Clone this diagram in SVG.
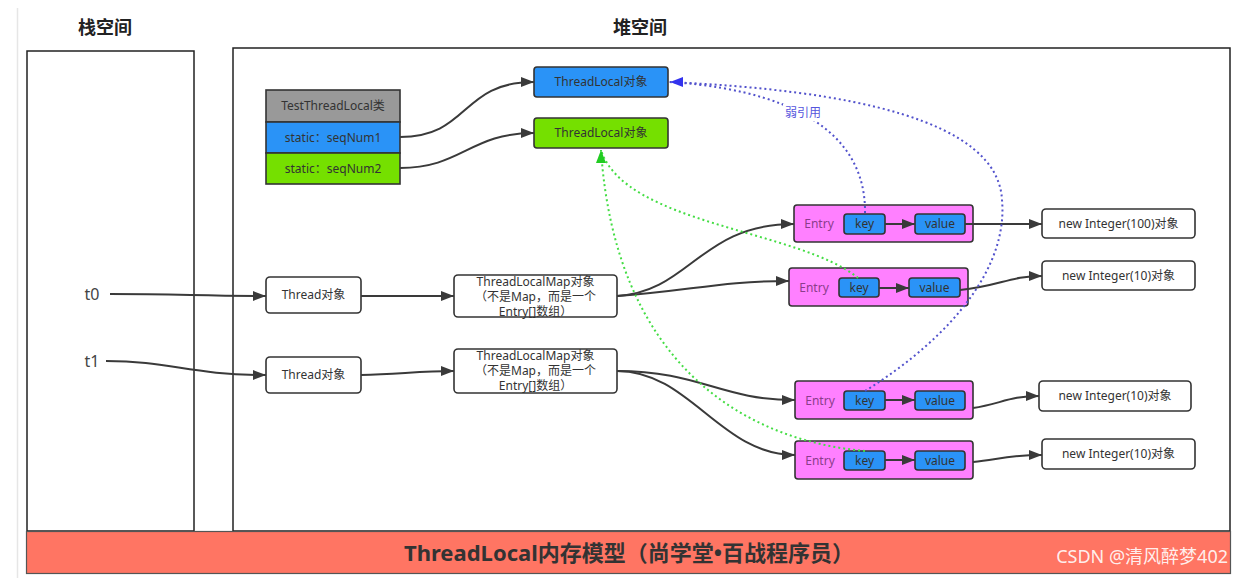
<svg xmlns="http://www.w3.org/2000/svg" width="1237" height="578" viewBox="0 0 1237 578">
<defs>
<style>
text{font-family:"Noto Sans","Noto Sans CJK SC",sans-serif;fill:#333;}
.t12{font-size:12px;text-anchor:middle;}
.t11{font-size:12px;text-anchor:middle;}
.frame{fill:#fff;stroke:#222;stroke-width:1.5;}
.box{fill:#fff;stroke:#333;stroke-width:1.6;}
.pink{fill:#ff80ff;stroke:#333;stroke-width:1.6;}
.kv{fill:#2a93f7;stroke:#333;stroke-width:1.6;}
.entry{font-size:12px;text-anchor:middle;fill:#8a3d8a;}
.conn{fill:none;stroke:#3a3a3a;stroke-width:2;}
.weak{fill:none;stroke:#5252cc;stroke-width:2;stroke-dasharray:2 3;}
.strong{fill:none;stroke:#44dd44;stroke-width:2;stroke-dasharray:2 3;}
</style>
<marker id="arr" markerUnits="userSpaceOnUse" markerWidth="14" markerHeight="12" refX="13" refY="5" orient="auto" viewBox="0 0 14 10">
<path d="M0,0 L13,5 L0,10 Z" fill="#3a3a3a"/>
</marker>
<marker id="arrBlue" markerUnits="userSpaceOnUse" markerWidth="14" markerHeight="12" refX="13" refY="5" orient="180" viewBox="0 0 14 10">
<path d="M0,0 L13,5 L0,10 Z" fill="#3333ee"/>
</marker>
<marker id="arrGreen" markerUnits="userSpaceOnUse" markerWidth="14" markerHeight="12" refX="13" refY="5" orient="270" viewBox="0 0 14 10">
<path d="M0,0 L13,5 L0,10 Z" fill="#22cc22"/>
</marker>
</defs>
<rect x="0" y="0" width="1237" height="578" fill="#fff"/>
<line x1="17.5" y1="8" x2="17.5" y2="578" stroke="#e6e6e6" stroke-width="1.5"/>

<g id="stack">
<text x="105" y="34" style="font-size:18px;font-weight:bold;text-anchor:middle;fill:#222">栈空间</text>
<rect class="frame" x="27" y="51" width="167" height="480"/>
</g>
<g id="heap">
<text x="640" y="34" style="font-size:18px;font-weight:bold;text-anchor:middle;fill:#222">堆空间</text>
<rect class="frame" x="233" y="48" width="997" height="483"/>
</g>
<g id="banner">
<rect x="26.5" y="531.5" width="1204" height="42" fill="#ff7563" stroke="#555" stroke-width="1.2"/>
<text x="629" y="561" style="font-size:22px;font-weight:bold;text-anchor:middle;fill:#333">ThreadLocal内存模型（尚学堂•百战程序员）</text>
<text x="1228" y="563" style="font-size:18px;text-anchor:end;fill:#fff;fill-opacity:0.9">CSDN @清风醉梦402</text>
</g>

<g id="labels-t">
<text x="92" y="300" style="font-size:16px;text-anchor:middle;fill:#444">t0</text>
<text x="92" y="367" style="font-size:16px;text-anchor:middle;fill:#444">t1</text>
</g>

<g id="testclass">
<rect x="266" y="90" width="134" height="32" fill="#999" stroke="#333" stroke-width="1.6"/>
<rect x="266" y="122" width="134" height="31" fill="#2a93f7" stroke="#333" stroke-width="1.6"/>
<rect x="266" y="153" width="134" height="31" fill="#75e000" stroke="#333" stroke-width="1.6"/>
<text class="t12" x="333" y="110">TestThreadLocal类</text>
<text class="t12" x="333" y="142">static：seqNum1</text>
<text class="t12" x="333" y="173">static：seqNum2</text>
</g>

<g id="tl-blue">
<rect x="534" y="67" width="134" height="30" rx="3" fill="#2a93f7" stroke="#333" stroke-width="1.6"/>
<text class="t12" x="601" y="86">ThreadLocal对象</text>
</g>
<g id="tl-green">
<rect x="534" y="118" width="134" height="30" rx="3" fill="#75e000" stroke="#333" stroke-width="1.6"/>
<text class="t12" x="601" y="137">ThreadLocal对象</text>
</g>

<g id="thread0">
<rect class="box" x="266" y="277" width="95" height="36" rx="4"/>
<text class="t12" x="313.5" y="299">Thread对象</text>
</g>
<g id="thread1">
<rect class="box" x="266" y="357" width="95" height="36" rx="4"/>
<text class="t12" x="313.5" y="379">Thread对象</text>
</g>

<g id="map0">
<rect class="box" x="454" y="275" width="163" height="42" rx="4"/>
<text class="t11" x="535.5" y="286">ThreadLocalMap对象</text>
<text class="t11" x="535.5" y="301">（不是Map，而是一个</text>
<text class="t11" x="535.5" y="316">Entry[]数组）</text>
</g>
<g id="map1">
<rect class="box" x="454" y="349" width="163" height="44" rx="4"/>
<text class="t11" x="535.5" y="360">ThreadLocalMap对象</text>
<text class="t11" x="535.5" y="375">（不是Map，而是一个</text>
<text class="t11" x="535.5" y="390">Entry[]数组）</text>
</g>

<g id="entry1">
<rect class="pink" x="794" y="205" width="179" height="37" rx="3"/>
<text class="entry" x="819" y="228">Entry</text>
<rect class="kv" x="844" y="214" width="41" height="20" rx="3"/>
<text class="t12" x="864.5" y="228">key</text>
<rect class="kv" x="915" y="214" width="50" height="20" rx="3"/>
<text class="t12" x="940" y="228">value</text>
</g>
<g id="entry2">
<rect class="pink" x="789" y="268" width="179" height="38" rx="3"/>
<text class="entry" x="814" y="292">Entry</text>
<rect class="kv" x="839" y="278" width="40" height="19" rx="3"/>
<text class="t12" x="859" y="292">key</text>
<rect class="kv" x="909" y="278" width="51" height="19" rx="3"/>
<text class="t12" x="934.5" y="292">value</text>
</g>
<g id="entry3">
<rect class="pink" x="795" y="381" width="178" height="38" rx="3"/>
<text class="entry" x="820" y="405">Entry</text>
<rect class="kv" x="844" y="391" width="41" height="19" rx="3"/>
<text class="t12" x="864.5" y="405">key</text>
<rect class="kv" x="915" y="391" width="50" height="19" rx="3"/>
<text class="t12" x="940" y="405">value</text>
</g>
<g id="entry4">
<rect class="pink" x="795" y="441" width="178" height="38" rx="3"/>
<text class="entry" x="820" y="465">Entry</text>
<rect class="kv" x="844" y="451" width="41" height="19" rx="3"/>
<text class="t12" x="864.5" y="465">key</text>
<rect class="kv" x="915" y="451" width="50" height="19" rx="3"/>
<text class="t12" x="940" y="465">value</text>
</g>

<g id="int100">
<rect class="box" x="1042" y="209" width="153" height="29" rx="4"/>
<text class="t12" x="1118.5" y="228">new Integer(100)对象</text>
</g>
<g id="int10a">
<rect class="box" x="1042" y="261" width="153" height="29" rx="4"/>
<text class="t12" x="1118.5" y="280">new Integer(10)对象</text>
</g>
<g id="int10b">
<rect class="box" x="1039" y="381" width="152" height="30" rx="4"/>
<text class="t12" x="1115" y="400">new Integer(10)对象</text>
</g>
<g id="int10c">
<rect class="box" x="1042" y="439" width="153" height="30" rx="4"/>
<text class="t12" x="1118.5" y="458">new Integer(10)对象</text>
</g>

<g id="connectors">
<path class="conn" d="M400,137 C470,137 460,82 534,82" marker-end="url(#arr)"/>
<path class="conn" d="M400,168 C462,168 470,133 534,133" marker-end="url(#arr)"/>
<path class="conn" d="M110,294 C180,294 200,296 266,296" marker-end="url(#arr)"/>
<path class="conn" d="M106,361 C170,361 190,375 266,375" marker-end="url(#arr)"/>
<path class="conn" d="M361,296 L454,296" marker-end="url(#arr)"/>
<path class="conn" d="M361,375 C400,374 420,371 454,371" marker-end="url(#arr)"/>
<path class="conn" d="M617,296 C690,292 700,224 794,224" marker-end="url(#arr)"/>
<path class="conn" d="M617,296 C690,291 720,281 789,281" marker-end="url(#arr)"/>
<path class="conn" d="M617,371 C700,371 720,400 795,400" marker-end="url(#arr)"/>
<path class="conn" d="M617,371 C690,371 720,455 795,455" marker-end="url(#arr)"/>
<path class="conn" d="M885,224 L915,224" marker-end="url(#arr)"/>
<path class="conn" d="M879,288 L909,288" marker-end="url(#arr)"/>
<path class="conn" d="M885,400 L915,400" marker-end="url(#arr)"/>
<path class="conn" d="M885,460 L915,460" marker-end="url(#arr)"/>
<path class="conn" d="M965,224 L1042,224" marker-end="url(#arr)"/>
<path class="conn" d="M960,290 C1000,286 1010,276 1042,276" marker-end="url(#arr)"/>
<path class="conn" d="M973,408 C1000,404 1010,396 1039,396" marker-end="url(#arr)"/>
<path class="conn" d="M973,462 C1000,459 1010,455 1042,455" marker-end="url(#arr)"/>
<path class="weak" d="M865,391 C955,335 1008,265 1002,200 C998,120 850,90 668,82"/>
<path class="weak" d="M865,213 C866,150 820,92 670,82" marker-end="url(#arrBlue)"/>
<rect x="783" y="104" width="40" height="17" fill="#fff"/>
<text x="803" y="117" style="font-size:12px;text-anchor:middle;fill:#5555dd">弱引用</text>
<path class="strong" d="M858,278 C800,230 625,225 601,150"/>
<path class="strong" d="M865,451 C740,440 615,360 601,150" marker-end="url(#arrGreen)"/>
</g>
</svg>
